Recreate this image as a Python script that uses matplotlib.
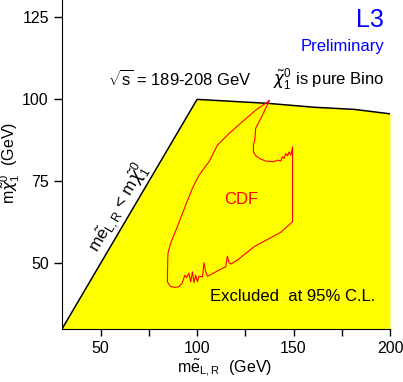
import matplotlib
matplotlib.use("Agg")
from matplotlib import pyplot as plt

plt.rcParams['font.family'] = ['Liberation Sans', 'DejaVu Sans']
plt.rcParams['mathtext.fontset'] = 'custom'
plt.rcParams['mathtext.rm'] = 'Liberation Sans'
plt.rcParams['mathtext.it'] = 'DejaVu Sans:italic'
plt.rcParams['mathtext.bf'] = 'Liberation Sans:bold'

# excluded region boundary (kinematic limit + upper edge)
boundary_x = [30, 100, 136.5, 160.7, 181.5, 200]
boundary_y = [30, 100, 98.8, 97.6, 96.95, 95.6]

# CDF contour
cdf_x = [137.4, 130.4, 123.5, 116.6, 110.6, 106.2, 101.0, 97.6, 94.1, 89.8, 86.3, 84.9,
         84.6, 86.3, 88.9, 90.6, 92.4, 93.6, 94.6, 95.8, 96.7, 97.6, 98.4, 99.3, 100.2,
         101.0, 102.8, 103.6, 104.5, 105.4, 107.1, 110.6, 114.9, 115.7, 116.6, 117.5,
         120.9, 129.6, 143.4, 149.5, 149.5, 148.6, 147.7, 146.9, 146.0, 145.1, 144.2,
         143.4, 141.7, 139.9, 135.6, 133.0, 130.4, 129.2, 129.2, 129.9, 130.4, 133.9, 137.4]
cdf_y = [99.6, 96.7, 93.2, 89.6, 86.1, 81.0, 76.9, 72.9, 67.8, 61.2, 56.1, 53.0,
         44.4, 42.9, 42.7, 42.9, 44.1, 46.4, 45.7, 47.0, 44.4, 47.4, 44.1, 46.4, 44.4,
         46.1, 45.9, 50.2, 47.4, 46.1, 46.6, 47.7, 49.0, 52.2, 50.2, 49.8,
         51.0, 55.1, 59.5, 62.7, 85.5, 83.0, 84.0, 82.8, 83.5, 82.0, 82.5,
         81.2, 81.5, 81.0, 81.2, 81.8, 82.8, 84.0, 86.1, 87.6, 91.2, 95.2, 99.6]

fig = plt.figure(figsize=(4.03, 3.82), dpi=100)
ax = fig.add_axes([62 / 403, 1 - 329 / 382, (390 - 62) / 403, 329 / 382])

ax.fill_between(boundary_x, boundary_y, 30, color='#ffff00', lw=0)
ax.plot(boundary_x, boundary_y, color='black', lw=1.1)
ax.plot(cdf_x, cdf_y, color='red', lw=0.8)

ax.set_xlim(30, 200)
ax.set_ylim(30, 130.3)
ax.spines['top'].set_visible(False)
ax.spines['right'].set_visible(False)
ax.set_xticks([50, 100, 150, 200])
ax.set_xticks([75, 125, 175], minor=True)
ax.set_yticks([50, 75, 100, 125])
ax.tick_params(which='both', direction='out', length=5, width=1, labelsize=11.5)
ax.tick_params(axis='y', length=6)

ax.set_xlabel(r'm$\tilde{\mathrm{e}}_{\mathrm{L,R}}$  (GeV)', fontsize=11.5)
ax.set_ylabel(r'm$\tilde{\chi}^{0}_{1}$  (GeV)', fontsize=11.5)
ax.xaxis.set_label_coords(0.497, -0.088)
ax.yaxis.set_label_coords(-0.122, 0.505)

ax.text(196.9, 124.2, 'L3', color='blue', fontsize=18, ha='right', va='center')
ax.text(196.9, 116.0, 'Preliminary', color='blue', fontsize=12, ha='right', va='center')
ax.text(53.6, 106.2, r'$\sqrt{\mathrm{s}}$ = 189-208 GeV', fontsize=12, ha='left', va='center')
ax.text(196.9, 106.2, r'$\tilde{\chi}^{0}_{1}$ is pure Bino', fontsize=12, ha='right', va='center')
ax.text(122.7, 69.6, 'CDF', color='red', fontsize=12, ha='center', va='center')
ax.text(106.6, 39.8, 'Excluded  at 95% C.L.', fontsize=12, ha='left', va='center')
ax.text(59.0, 67.0, r'm$\tilde{\mathrm{e}}_{\mathrm{L,R}}$ < m$\tilde{\chi}^{0}_{1}$', fontsize=12.5,
        rotation=59.6, rotation_mode='anchor', ha='center', va='center')

fig.savefig('out.png', dpi=100)
